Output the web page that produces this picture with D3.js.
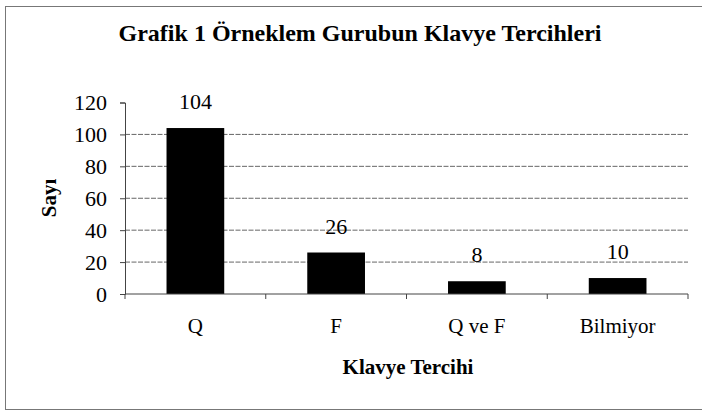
<!DOCTYPE html>
<html>
<head>
<meta charset="utf-8">
<script src="https://cdn.jsdelivr.net/npm/d3@7.9.0/dist/d3.min.js"></script>
<style>
  body { margin: 0; background: #fff; }
  .serif { font-family: "Liberation Serif", "Times New Roman", Times, serif; }
</style>
</head>
<body>
<svg id="chart" width="702" height="413">
  <text class="serif" x="180" y="250" font-size="21" fill="#000">0</text>
</svg>
<script>
const categories = ['Q', 'F', 'Q ve F', 'Bilmiyor'];
const counts = [104, 26, 8, 10];
const yTicks = [0, 20, 40, 60, 80, 100, 120];
const serifStack = '"Liberation Serif", "Times New Roman", Times, serif';

const svg = d3.select('#chart');

// outer frame of the scanned figure
svg.append('rect')
  .attr('x', 5.5).attr('y', 6.5)
  .attr('width', 702).attr('height', 403)
  .attr('fill', 'none')
  .attr('stroke', '#777')
  .attr('stroke-width', 1);

const x = d3.scaleBand()
  .domain(categories)
  .range([125, 688])
  .paddingInner(0.59)
  .paddingOuter(0.295);

const y = d3.scaleLinear()
  .domain([0, 120])
  .range([294, 102.5]);

// gridlines
svg.append('g')
  .selectAll('line')
  .data(yTicks.filter(d => d > 0 && d < 120))
  .join('line')
  .attr('x1', 125).attr('x2', 688)
  .attr('y1', d => y(d)).attr('y2', d => y(d))
  .attr('stroke', '#666')
  .attr('stroke-width', 1)
  .attr('stroke-dasharray', '5,1.5');

// bars (the Q bar also covers the warm-up glyph above)
svg.append('g')
  .selectAll('rect')
  .data(categories)
  .join('rect')
  .attr('x', d => x(d))
  .attr('y', (d, i) => y(counts[i]))
  .attr('width', x.bandwidth())
  .attr('height', (d, i) => y(0) - y(counts[i]))
  .attr('fill', '#000');

// value labels
svg.append('g')
  .selectAll('text')
  .data(categories)
  .join('text')
  .attr('x', d => x(d) + x.bandwidth() / 2)
  .attr('y', (d, i) => y(counts[i]) - 19)
  .attr('text-anchor', 'middle')
  .style('font-family', serifStack)
  .style('font-size', '22px')
  .text((d, i) => counts[i]);

// y axis
const yAxis = svg.append('g')
  .attr('transform', 'translate(125,0)')
  .call(d3.axisLeft(y).tickValues(yTicks).tickSize(5).tickPadding(13));
yAxis.attr('font-family', null).attr('font-size', null);
yAxis.select('.domain').attr('stroke', '#444');
yAxis.selectAll('.tick line').attr('stroke', '#444');
yAxis.selectAll('.tick text')
  .attr('fill', '#000')
  .style('font-family', serifStack)
  .style('font-size', '22px');

// x axis with ticks at band boundaries
const xAxisG = svg.append('g');
xAxisG.append('line')
  .attr('x1', 125).attr('x2', 688)
  .attr('y1', y(0)).attr('y2', y(0))
  .attr('stroke', '#444');
const step = x.step();
xAxisG.selectAll('.bnd')
  .data(d3.range(categories.length + 1))
  .join('line')
  .attr('class', 'bnd')
  .attr('x1', i => 125 + i * step).attr('x2', i => 125 + i * step)
  .attr('y1', y(0)).attr('y2', y(0) + 5)
  .attr('stroke', '#444');
xAxisG.selectAll('text')
  .data(categories)
  .join('text')
  .attr('x', d => x(d) + x.bandwidth() / 2)
  .attr('y', 333)
  .attr('text-anchor', 'middle')
  .style('font-family', serifStack)
  .style('font-size', '21px')
  .text(d => d);

// titles
svg.append('text')
  .attr('x', 360).attr('y', 41)
  .attr('text-anchor', 'middle')
  .style('font-family', serifStack)
  .style('font-size', '24px')
  .style('font-weight', 'bold')
  .text('Grafik 1 Örneklem Gurubun Klavye Tercihleri');

svg.append('text')
  .attr('x', 408).attr('y', 374)
  .attr('text-anchor', 'middle')
  .style('font-family', serifStack)
  .style('font-size', '21px')
  .style('font-weight', 'bold')
  .text('Klavye Tercihi');

svg.append('text')
  .attr('transform', 'translate(56,198) rotate(-90)')
  .attr('text-anchor', 'middle')
  .style('font-family', serifStack)
  .style('font-size', '21px')
  .style('font-weight', 'bold')
  .text('Sayı');
</script>
</body>
</html>
